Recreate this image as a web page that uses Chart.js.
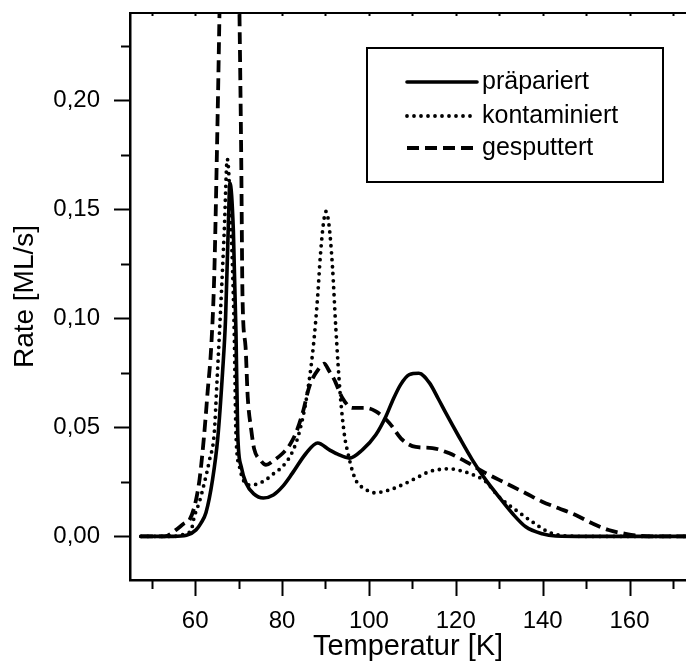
<!DOCTYPE html>
<html>
<head>
<meta charset="utf-8">
<title>Rate vs. Temperatur</title>
<script src="https://cdn.jsdelivr.net/npm/chart.js@4.4.1/dist/chart.umd.min.js"></script>
<style>
  html, body { margin: 0; padding: 0; background: #fff; }
  canvas { display: block; }
</style>
</head>
<body>
<canvas id="c" width="686" height="664"></canvas>
<script>
// Desorption spectra: temperature [K] and rate [ML/s] per sample state
const seriesNames = ['präpariert', 'kontaminiert', 'gesputtert'];

const presT    = [47.5, 55, 58, 60.2, 61.3, 62.5, 64.0, 65.2, 66.3, 67.0, 67.6, 68.0, 68.8, 69.4, 69.8, 70.6, 71.7, 73.5, 75.7, 78.0, 80.1, 82.4, 85.5, 88.2, 90.9, 92.8, 95.5, 98.5, 101.6, 103.9, 105.4, 107.3, 109.3, 111.5, 113.9, 116.0, 117.7, 120.7, 123.8, 126.9, 129.9, 133.0, 136.1, 139.9, 143, 150, 175];
const presRate = [0, 0, 0.0005, 0.003, 0.006, 0.011, 0.026, 0.045, 0.075, 0.100, 0.140, 0.162, 0.140, 0.0935, 0.047, 0.032, 0.0245, 0.0195, 0.0176, 0.019, 0.0228, 0.029, 0.038, 0.0428, 0.0397, 0.0377, 0.0359, 0.0397, 0.0466, 0.055, 0.062, 0.0696, 0.0742, 0.0748, 0.0705, 0.063, 0.0566, 0.0458, 0.0351, 0.0259, 0.0182, 0.0106, 0.0044, 0.0012, 0.0002, 0, 0];

const contT    = [47.5, 55, 57.5, 59.1, 59.8, 61.0, 62.1, 63.3, 64.4, 65.0, 65.6, 66.7, 67.4, 68.3, 69.0, 69.4, 70.2, 71.3, 72.5, 74.3, 76.3, 78.2, 80.1, 82.2, 83.8, 85.6, 87.2, 88.2, 88.8, 89.5, 90.1, 90.8, 91.6, 92.4, 93.4, 94.4, 95.2, 96.2, 97.2, 98.9, 101.2, 104.7, 108.5, 111.5, 113.9, 116.0, 118.5, 121.0, 123.0, 126.9, 129.9, 133.8, 137.6, 141.4, 145, 150, 175];
const contRate = [0, 0, 0.001, 0.003, 0.009, 0.016, 0.0244, 0.035, 0.0475, 0.070, 0.0935, 0.140, 0.173, 0.140, 0.0935, 0.047, 0.032, 0.025, 0.0236, 0.024, 0.026, 0.029, 0.032, 0.038, 0.0465, 0.063, 0.087, 0.110, 0.128, 0.143, 0.149, 0.143, 0.124, 0.095, 0.065, 0.046, 0.038, 0.030, 0.025, 0.022, 0.020, 0.0213, 0.0244, 0.0274, 0.0297, 0.0306, 0.031, 0.0302, 0.029, 0.0251, 0.0182, 0.0121, 0.0067, 0.002, 0.0003, 0, 0];

const sputT    = [47.5, 53, 55.6, 57.5, 58.7, 60.0, 61.0, 62.0, 62.9, 63.7, 64.4, 65.0, 65.6, 66.4, 67.3, 68.1, 68.9, 69.6, 70.2, 70.6, 70.9, 71.6, 72.1, 72.9, 73.6, 75.0, 76.3, 78.2, 80.1, 81.8, 83.2, 84.8, 86.3, 88.6, 89.7, 90.8, 92.0, 93.9, 96.2, 99.3, 101.6, 104.7, 107.7, 110.8, 114.6, 118.4, 122.3, 126.9, 131.5, 136.1, 139.9, 143.7, 147.6, 151.4, 155.2, 159.1, 162, 165, 175];
const sputRate = [0, 0, 0.003, 0.006, 0.0075, 0.015, 0.026, 0.045, 0.067, 0.087, 0.120, 0.175, 0.240, 0.340, 0.400, 0.420, 0.400, 0.330, 0.240, 0.175, 0.110, 0.087, 0.064, 0.049, 0.040, 0.035, 0.0328, 0.035, 0.038, 0.042, 0.0474, 0.057, 0.0688, 0.0773, 0.0792, 0.076, 0.072, 0.0635, 0.0589, 0.0589, 0.0573, 0.052, 0.0443, 0.041, 0.0405, 0.0382, 0.0343, 0.029, 0.0244, 0.0198, 0.0159, 0.0129, 0.0098, 0.006, 0.0029, 0.0012, 0.0003, 0, 0];

// Axis ticks
const xLabelTicks = [60, 80, 100, 120, 140, 160];
const xMinorTicks = [50, 70, 90, 110, 130, 150, 170];
const yLabelTicks = [0, 0.05, 0.10, 0.15, 0.20];
const yMinorTicks = [0.025, 0.075, 0.125, 0.175, 0.225];

const FONT = "'Liberation Sans', Arial, sans-serif";

function toPoints(xs, ys) {
  return xs.map((x, i) => ({ x: x, y: ys[i] }));
}

// Tick marks (long labelled, short minor), top frame line and the legend box
const frameAndLegend = {
  id: 'frameAndLegend',
  afterDraw(chart) {
    const ctx = chart.ctx;
    const xs = chart.scales.x, ys = chart.scales.y;
    const area = chart.chartArea;
    ctx.save();
    ctx.strokeStyle = '#000';
    ctx.lineCap = 'butt';

    // top frame
    ctx.lineWidth = 2;
    ctx.beginPath();
    ctx.moveTo(area.left, area.top);
    ctx.lineTo(area.right, area.top);
    ctx.stroke();

    ctx.lineWidth = 2;
    const drawX = (vals, len) => {
      vals.forEach(v => {
        const px = Math.round(xs.getPixelForValue(v)) + 0.5;
        ctx.beginPath();
        ctx.moveTo(px, area.bottom);
        ctx.lineTo(px, area.bottom + len);
        ctx.stroke();
        ctx.beginPath();
        ctx.moveTo(px, area.top);
        ctx.lineTo(px, area.top + 3);
        ctx.stroke();
      });
    };
    drawX(xLabelTicks, 16);
    drawX(xMinorTicks, 9);

    const drawY = (vals, len) => {
      vals.forEach(v => {
        const py = Math.round(ys.getPixelForValue(v)) + 0.5;
        ctx.beginPath();
        ctx.moveTo(area.left, py);
        ctx.lineTo(area.left - len, py);
        ctx.stroke();
      });
    };
    drawY(yLabelTicks, 16);
    drawY(yMinorTicks, 9);

    // legend
    const box = { x: 367, y: 48, w: 296, h: 134 };
    ctx.fillStyle = '#fff';
    ctx.fillRect(box.x, box.y, box.w, box.h);
    ctx.lineWidth = 2;
    ctx.strokeRect(box.x, box.y, box.w, box.h);

    const rows = [82, 116, 148];
    chart.data.datasets.forEach((ds, i) => {
      const y = rows[i];
      ctx.save();
      ctx.lineWidth = ds.borderWidth;
      ctx.lineCap = ds.borderCapStyle || 'butt';
      ctx.setLineDash(ds.borderDash || []);
      ctx.beginPath();
      ctx.moveTo(407, y);
      ctx.lineTo(477, y);
      ctx.stroke();
      ctx.restore();
      ctx.fillStyle = '#000';
      ctx.font = '25px ' + FONT;
      ctx.textBaseline = 'middle';
      ctx.textAlign = 'left';
      ctx.fillText(ds.label, 482, y);
    });
    ctx.restore();
  }
};

new Chart(document.getElementById('c'), {
  type: 'line',
  data: {
    datasets: [
      {
        label: seriesNames[0],
        data: toPoints(presT, presRate),
        borderColor: '#000',
        borderWidth: 3.6,
        borderCapStyle: 'round',
        pointRadius: 0,
        cubicInterpolationMode: 'monotone'
      },
      {
        label: seriesNames[1],
        data: toPoints(contT, contRate),
        borderColor: '#000',
        borderWidth: 3.8,
        borderDash: [0, 7],
        borderCapStyle: 'round',
        pointRadius: 0,
        cubicInterpolationMode: 'monotone'
      },
      {
        label: seriesNames[2],
        data: toPoints(sputT, sputRate),
        borderColor: '#000',
        borderWidth: 3.8,
        borderDash: [12, 6],
        borderCapStyle: 'butt',
        pointRadius: 0,
        cubicInterpolationMode: 'monotone'
      }
    ]
  },
  options: {
    responsive: false,
    animation: false,
    devicePixelRatio: 1,
    layout: { padding: { top: 13, right: 0, left: 0, bottom: 0 } },
    plugins: {
      legend: { display: false },
      tooltip: { enabled: false }
    },
    scales: {
      x: {
        type: 'linear',
        min: 45,
        max: 173,
        afterBuildTicks(scale) { scale.ticks = xLabelTicks.map(v => ({ value: v })); },
        afterFit(scale) {
          scale.height = 84;
          scale.paddingLeft = 0;
          scale.paddingRight = 0;
        },
        grid: { display: false, drawTicks: false },
        border: { display: true, color: '#000', width: 2.5 },
        ticks: {
          color: '#000',
          font: { family: FONT, size: 24 },
          padding: 27,
          maxRotation: 0,
          autoSkip: false
        },
        title: {
          display: true,
          text: 'Temperatur [K]',
          color: '#000',
          font: { family: FONT, size: 29 },
          padding: { top: 0, bottom: 0 }
        }
      },
      y: {
        type: 'linear',
        min: -0.02,
        max: 0.24,
        afterBuildTicks(scale) { scale.ticks = yLabelTicks.map(v => ({ value: v })); },
        afterFit(scale) {
          scale.width = 130;
          scale.paddingTop = 0;
          scale.paddingBottom = 0;
        },
        grid: { display: false, drawTicks: false },
        border: { display: true, color: '#000', width: 2.5 },
        ticks: {
          color: '#000',
          font: { family: FONT, size: 24 },
          padding: 30,
          autoSkip: false,
          callback: v => v.toFixed(2).replace('.', ',')
        },
        title: {
          display: true,
          text: 'Rate [ML/s]',
          color: '#000',
          font: { family: FONT, size: 28 },
          padding: { top: 8, bottom: 0 }
        }
      }
    }
  },
  plugins: [frameAndLegend]
});
</script>
</body>
</html>
